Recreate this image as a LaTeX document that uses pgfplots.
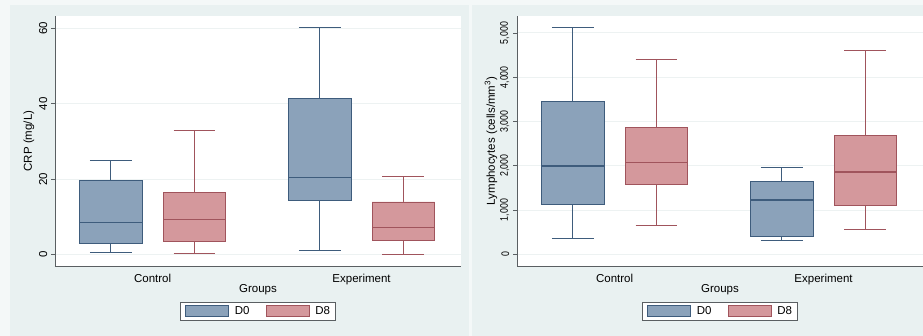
\documentclass[border=0pt]{standalone}
\usepackage{fontspec}
\setmainfont{Liberation Sans}
\usepackage{graphicx}
\usepackage{pgfplots}
\pgfplotsset{compat=1.18}
\definecolor{bgc}{HTML}{E9F1F1}
\definecolor{outerc}{HTML}{F4F8F8}
\definecolor{bfill}{HTML}{8BA2BA}
\definecolor{bdraw}{HTML}{3E5C7C}
\definecolor{rfill}{HTML}{D4989C}
\definecolor{rdraw}{HTML}{A0545C}
\definecolor{gridc}{HTML}{EDF2F2}
\definecolor{axc}{HTML}{5A5F62}
% whiskers: #1 colour, #2 cap left, #3 centre, #4 cap right, #5 lower whisker, #6 upper whisker
\newcommand{\whisk}[6]{%
  \addplot[draw=#1, line width=0.9bp, unbounded coords=jump, forget plot] coordinates {
    (#2,#5) (#4,#5) (#3,nan) (#3,#5) (#3,#6) (#3,nan) (#2,#6) (#4,#6)};}
% box: #1 style, #2 colour, #3 left, #4 right, #5 Q1, #6 median, #7 Q3
\newcommand{\bx}[7]{%
  \addplot[#1, line cap=rect, forget plot] coordinates {(#3,#5) (#4,#5) (#4,#7) (#3,#7) (#3,#5)};
  \addplot[draw=#2, line width=1.3bp, forget plot] coordinates {(#3,#6) (#4,#6)};}
\pgfplotsset{
  bluebox/.style={fill=bfill, draw=bdraw, line width=0.9bp},
  redbox/.style={fill=rfill, draw=rdraw, line width=0.9bp},
  stata/.style={
    scale only axis, width=406bp, height=250bp, anchor=south west,
    xmin=-0.668, xmax=4.19,
    axis lines*=left,
    axis line style={axc, line width=0.9bp},
    every tick/.style={axc, line width=0.9bp},
    tick align=outside, major tick length=4bp,
    xtick={0.5,3}, xticklabels={Control,Experiment},
    xtick style={draw=none},
    ymajorgrids, major grid style={gridc, line width=1bp},
    font=\fontsize{11.5bp}{13bp}\selectfont,
    tick label style={font=\fontsize{11.5bp}{13bp}\selectfont},
    /pgf/number format/assume math mode=true,
    /pgf/number format/1000 sep={,},
    yticklabel style={rotate=90, anchor=south, inner sep=3.5bp},
    xticklabel style={anchor=base, yshift=-12bp},
    xlabel={Groups},
    xlabel style={at={(axis description cs:0.5,0)}, anchor=base, yshift=-26.7bp},
    ylabel style={at={(axis description cs:-0.064,0.5)}, anchor=center},
    axis background/.style={fill=white},
    legend columns=2,
    legend style={at={(0.5,-0.145)}, anchor=north, draw=axc, line width=0.7bp, fill=white,
      inner xsep=3.5bp, inner ysep=2bp,
      /tikz/every even column/.append style={column sep=13bp},
      font=\fontsize{11.5bp}{13bp}\selectfont},
    legend image code/.code={\path (-1bp,0bp) (47bp,0bp);
      \draw[#1] (0bp,-5.5bp) rectangle (43bp,5.5bp);},
  }
}
\begin{document}
\begin{tikzpicture}
\useasboundingbox (0bp,0bp) rectangle (923bp,336bp);
\fill[outerc] (0bp,0bp) rectangle (923bp,336bp);
\fill[bgc] (10bp,0bp) rectangle (469bp,331bp);
\fill[bgc] (472bp,0bp) rectangle (923bp,331bp);

\begin{axis}[stata, at={(55bp,70bp)},
  ymin=-3.1, ymax=63.3, ytick={0,20,40,60},
  ylabel={CRP (mg/L)}]
\addlegendimage{bluebox}
\addlegendimage{redbox}
\legend{D0,D8}
% Control D0
\whisk{bdraw}{-0.25}{0}{0.25}{0.5}{25.0}
\bx{bluebox}{bdraw}{-0.374}{0.374}{2.8}{8.4}{19.7}
% Control D8
\whisk{rdraw}{0.75}{1}{1.25}{0.3}{32.9}
\bx{redbox}{rdraw}{0.626}{1.374}{3.3}{9.3}{16.4}
% Experiment D0
\whisk{bdraw}{2.25}{2.5}{2.75}{1.0}{60.3}
\bx{bluebox}{bdraw}{2.126}{2.874}{14.2}{20.4}{41.5}
% Experiment D8
\whisk{rdraw}{3.25}{3.5}{3.75}{0.0}{20.7}
\bx{redbox}{rdraw}{3.126}{3.874}{3.6}{7.1}{13.9}
\end{axis}

\begin{axis}[stata, at={(517bp,70bp)},
  ymin=-264, ymax=5384, ytick={0,1000,2000,3000,4000,5000},
  yticklabel style={font=\fontsize{11bp}{12bp}\selectfont},
  yticklabel={\scalebox{0.8}[1]{\pgfmathprintnumber{\tick}}},
  ylabel={Lymphocytes (cells/mm\textsuperscript{3})}]
\addlegendimage{bluebox}
\addlegendimage{redbox}
\legend{D0,D8}
% Control D0
\whisk{bdraw}{-0.25}{0}{0.25}{352}{5128}
\bx{bluebox}{bdraw}{-0.374}{0.374}{1130}{1995}{3463}
% Control D8
\whisk{rdraw}{0.75}{1}{1.25}{646}{4396}
\bx{redbox}{rdraw}{0.626}{1.374}{1581}{2078}{2860}
% Experiment D0
\whisk{bdraw}{2.25}{2.5}{2.75}{323}{1972}
\bx{bluebox}{bdraw}{2.126}{2.874}{398}{1227}{1649}
% Experiment D8
\whisk{rdraw}{3.25}{3.5}{3.75}{572}{4600}
\bx{redbox}{rdraw}{3.126}{3.874}{1099}{1860}{2680}
\end{axis}
\end{tikzpicture}
\end{document}
